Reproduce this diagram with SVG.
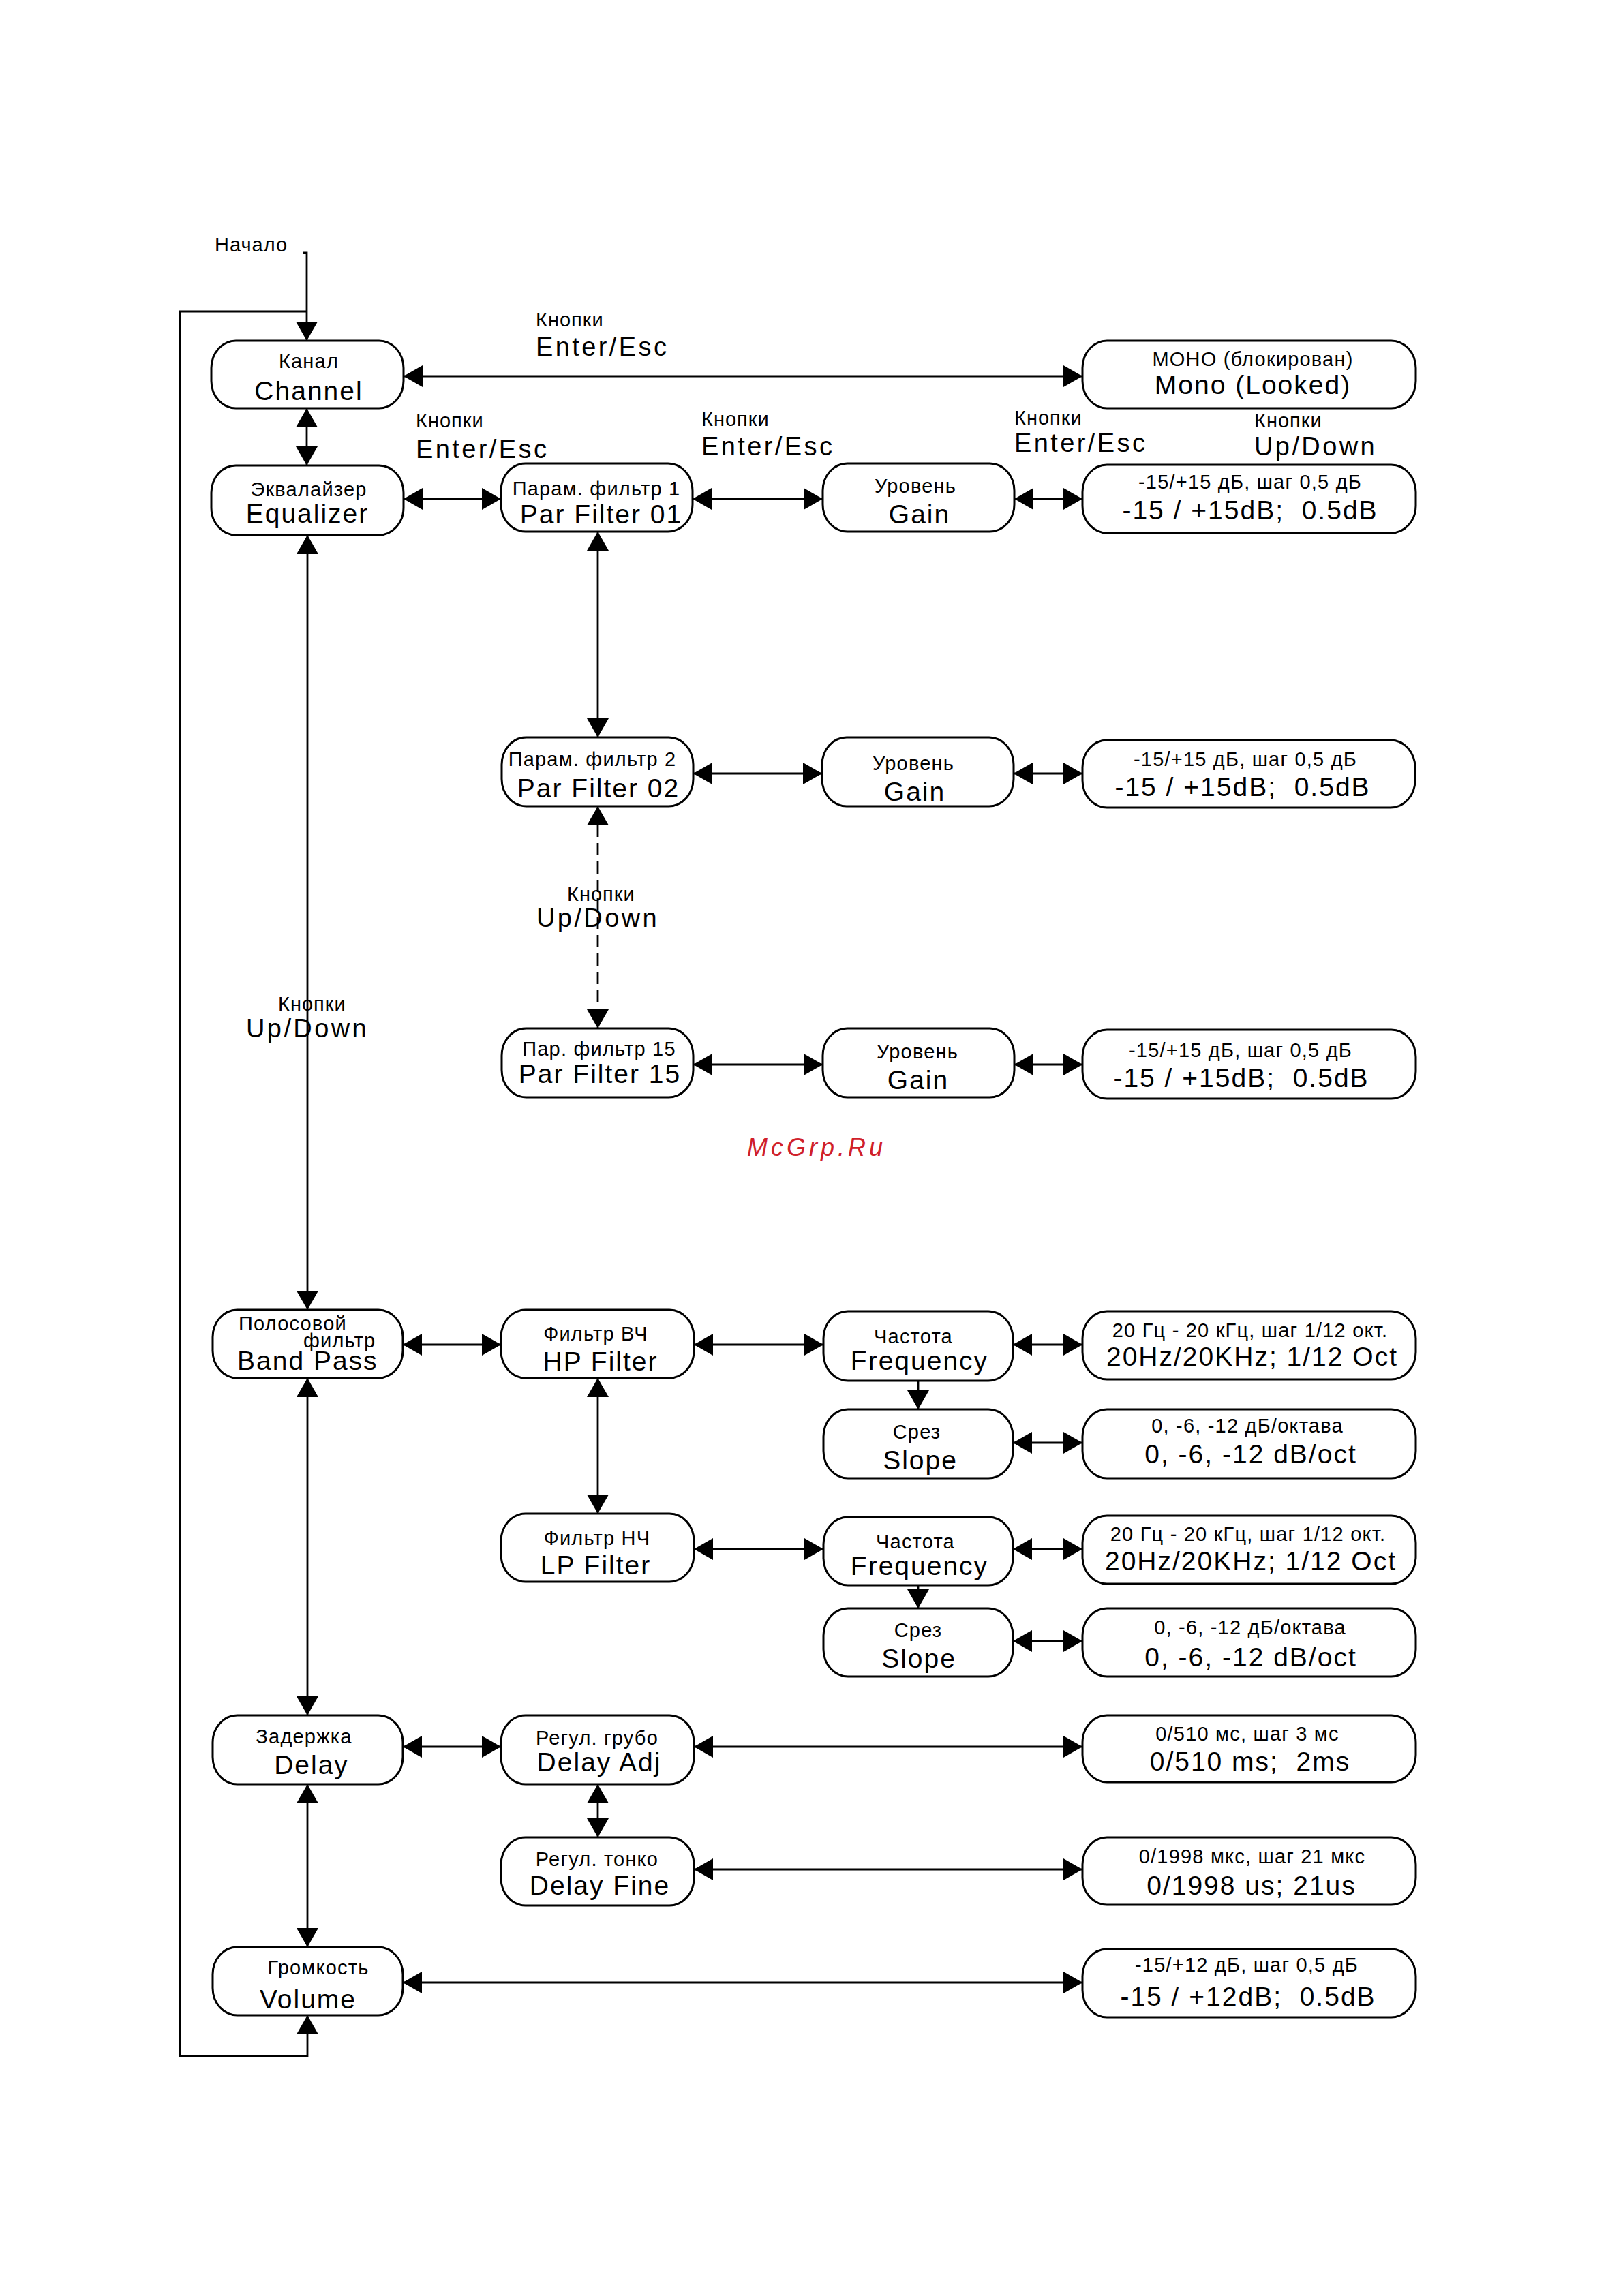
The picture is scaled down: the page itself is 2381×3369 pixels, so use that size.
<svg xmlns="http://www.w3.org/2000/svg" width="2381" height="3369" viewBox="0 0 2381 3369">
<style>
text{font-family:"Liberation Sans",Arial,sans-serif;fill:#000;text-anchor:middle}
.s{font-size:29px;letter-spacing:1.2px}
.b{font-size:39px;letter-spacing:2px}
.k{font-size:38px;letter-spacing:3.4px;text-anchor:start}
.ks{font-size:29px;letter-spacing:1px;text-anchor:start}
.st{text-anchor:start}
.n rect{fill:#fff;stroke:#000;stroke-width:3}
.c line,.c polyline{stroke:#000;stroke-width:2.8;fill:none}
.d{marker-start:url(#ah);marker-end:url(#ah)}
.e{marker-end:url(#ah)}
.dash{stroke-dasharray:18 9}
.wm{font-size:36px;letter-spacing:5px;font-style:italic;fill:#d0202a;text-anchor:start}
</style>
<defs>
<marker id="ah" viewBox="0 0 28 32" refX="28" refY="16" markerWidth="28" markerHeight="32" markerUnits="userSpaceOnUse" orient="auto-start-reverse"><path d="M0,0 L28,16 L0,32 Z" fill="#000"/></marker>
</defs>
<rect width="2381" height="3369" fill="#fff"/>

<g id="connectors" class="c">
<polyline points="444,371 450,371 450,500" class="e"/>
<polyline points="450,457 264,457 264,3017 451,3017 451,2957" class="e"/>
<line x1="592" y1="552" x2="1588" y2="552" class="d"/>
<line x1="450" y1="599" x2="450" y2="683" class="d"/>
<line x1="592" y1="732" x2="735" y2="732" class="d"/>
<line x1="1016" y1="732" x2="1207" y2="732" class="d"/>
<line x1="1488" y1="732" x2="1588" y2="732" class="d"/>
<line x1="877" y1="780" x2="877" y2="1082" class="d"/>
<line x1="1017" y1="1135" x2="1206" y2="1135" class="d"/>
<line x1="1487" y1="1135" x2="1588" y2="1135" class="d"/>
<line x1="877" y1="1183" x2="877" y2="1509" class="d dash"/>
<line x1="1017" y1="1562" x2="1207" y2="1562" class="d"/>
<line x1="1488" y1="1562" x2="1588" y2="1562" class="d"/>
<line x1="451" y1="785" x2="451" y2="1922" class="d"/>
<line x1="591" y1="1973" x2="735" y2="1973" class="d"/>
<line x1="1018" y1="1973" x2="1208" y2="1973" class="d"/>
<line x1="1486" y1="1973" x2="1588" y2="1973" class="d"/>
<line x1="1347" y1="2026" x2="1347" y2="2068" class="e"/>
<line x1="1486" y1="2117" x2="1588" y2="2117" class="d"/>
<line x1="877" y1="2022" x2="877" y2="2221" class="d"/>
<line x1="1018" y1="2273" x2="1208" y2="2273" class="d"/>
<line x1="1486" y1="2273" x2="1588" y2="2273" class="d"/>
<line x1="1347" y1="2326" x2="1347" y2="2360" class="e"/>
<line x1="1486" y1="2408" x2="1588" y2="2408" class="d"/>
<line x1="451" y1="2022" x2="451" y2="2517" class="d"/>
<line x1="591" y1="2563" x2="735" y2="2563" class="d"/>
<line x1="1018" y1="2563" x2="1588" y2="2563" class="d"/>
<line x1="877" y1="2618" x2="877" y2="2696" class="d"/>
<line x1="1018" y1="2743" x2="1588" y2="2743" class="d"/>
<line x1="451" y1="2618" x2="451" y2="2857" class="d"/>
<line x1="591" y1="2909" x2="1588" y2="2909" class="d"/>
</g>

<g id="labels">
<text class="ks" x="315" y="369">Начало</text>
<text class="ks" x="786" y="479">Кнопки</text>
<text class="k" x="786" y="522">Enter/Esc</text>
<text class="ks" x="610" y="627">Кнопки</text>
<text class="k" x="610" y="672">Enter/Esc</text>
<text class="ks" x="1029" y="625">Кнопки</text>
<text class="k" x="1029" y="668">Enter/Esc</text>
<text class="ks" x="1488" y="623">Кнопки</text>
<text class="k" x="1488" y="663">Enter/Esc</text>
<text class="ks" x="1840" y="627">Кнопки</text>
<text class="k" x="1840" y="668">Up/Down</text>
<text class="ks" x="832" y="1322">Кнопки</text>
<text class="k" x="787" y="1360">Up/Down</text>
<text class="ks" x="408" y="1483">Кнопки</text>
<text class="k" x="361" y="1522">Up/Down</text>
<text class="wm" x="1096" y="1696">McGrp.Ru</text>
</g>

<g id="channel" class="n"><rect x="310" y="500" width="282" height="99" rx="36" ry="40"/><text class="s" x="453" y="540">Канал</text><text class="b" x="453" y="587">Channel</text></g>
<g id="mono" class="n"><rect x="1588" y="500" width="489" height="99" rx="36" ry="40"/><text class="s" x="1838" y="537">МОНО (блокирован)</text><text class="b" x="1838" y="578">Mono (Looked)</text></g>

<g id="equalizer" class="n"><rect x="310" y="683" width="282" height="102" rx="36" ry="40"/><text class="s" x="453" y="728">Эквалайзер</text><text class="b" x="451" y="767">Equalizer</text></g>
<g id="parfilter01" class="n"><rect x="735" y="680" width="281" height="100" rx="36" ry="40"/><text class="s" x="875" y="727">Парам. фильтр 1</text><text class="b" x="882" y="768">Par Filter 01</text></g>
<g id="gain1" class="n"><rect x="1207" y="680" width="281" height="100" rx="36" ry="40"/><text class="s" x="1343" y="723">Уровень</text><text class="b" x="1349" y="768">Gain</text></g>
<g id="gainval1" class="n"><rect x="1588" y="682" width="489" height="100" rx="36" ry="40"/><text class="s" x="1834" y="717">-15/+15 дБ, шаг 0,5 дБ</text><text class="b" x="1834" y="762">-15 / +15dB;&#160; 0.5dB</text></g>

<g id="parfilter02" class="n"><rect x="736" y="1082" width="281" height="101" rx="36" ry="40"/><text class="s" x="869" y="1124">Парам. фильтр 2</text><text class="b" x="878" y="1170">Par Filter 02</text></g>
<g id="gain2" class="n"><rect x="1206" y="1082" width="281" height="101" rx="36" ry="40"/><text class="s" x="1340" y="1130">Уровень</text><text class="b" x="1342" y="1175">Gain</text></g>
<g id="gainval2" class="n"><rect x="1588" y="1086" width="488" height="99" rx="36" ry="40"/><text class="s" x="1827" y="1124">-15/+15 дБ, шаг 0,5 дБ</text><text class="b" x="1823" y="1168">-15 / +15dB;&#160; 0.5dB</text></g>

<g id="parfilter15" class="n"><rect x="736" y="1509" width="281" height="101" rx="36" ry="40"/><text class="s" x="879" y="1549">Пар. фильтр 15</text><text class="b" x="880" y="1589">Par Filter 15</text></g>
<g id="gain15" class="n"><rect x="1207" y="1509" width="281" height="101" rx="36" ry="40"/><text class="s" x="1346" y="1553">Уровень</text><text class="b" x="1347" y="1598">Gain</text></g>
<g id="gainval15" class="n"><rect x="1588" y="1511" width="489" height="101" rx="36" ry="40"/><text class="s" x="1820" y="1551">-15/+15 дБ, шаг 0,5 дБ</text><text class="b" x="1821" y="1595">-15 / +15dB;&#160; 0.5dB</text></g>

<g id="bandpass" class="n"><rect x="312" y="1922" width="279" height="100" rx="36" ry="40"/><text class="s st" x="350" y="1952">Полосовой</text><text class="s st" x="445" y="1977">фильтр</text><text class="b st" x="348" y="2010">Band Pass</text></g>
<g id="hpfilter" class="n"><rect x="735" y="1922" width="283" height="100" rx="36" ry="40"/><text class="s" x="874" y="1967">Фильтр ВЧ</text><text class="b" x="881" y="2011">HP Filter</text></g>
<g id="freq1" class="n"><rect x="1208" y="1924" width="278" height="102" rx="36" ry="40"/><text class="s" x="1340" y="1971">Частота</text><text class="b" x="1349" y="2010">Frequency</text></g>
<g id="freqval1" class="n"><rect x="1588" y="1924" width="489" height="100" rx="36" ry="40"/><text class="s" x="1834" y="1962">20 Гц - 20 кГц, шаг 1/12 окт.</text><text class="b" x="1837" y="2004">20Hz/20KHz; 1/12 Oct</text></g>
<g id="slope1" class="n"><rect x="1208" y="2068" width="278" height="101" rx="36" ry="40"/><text class="s" x="1345" y="2111">Срез</text><text class="b" x="1350" y="2156">Slope</text></g>
<g id="slopeval1" class="n"><rect x="1588" y="2068" width="489" height="101" rx="36" ry="40"/><text class="s" x="1830" y="2102">0, -6, -12 дБ/октава</text><text class="b" x="1835" y="2147">0, -6, -12 dB/oct</text></g>

<g id="lpfilter" class="n"><rect x="735" y="2221" width="283" height="100" rx="36" ry="40"/><text class="s" x="876" y="2267">Фильтр НЧ</text><text class="b" x="874" y="2310">LP Filter</text></g>
<g id="freq2" class="n"><rect x="1208" y="2226" width="278" height="100" rx="36" ry="40"/><text class="s" x="1343" y="2272">Частота</text><text class="b" x="1349" y="2311">Frequency</text></g>
<g id="freqval2" class="n"><rect x="1588" y="2224" width="489" height="100" rx="36" ry="40"/><text class="s" x="1831" y="2261">20 Гц - 20 кГц, шаг 1/12 окт.</text><text class="b" x="1835" y="2304">20Hz/20KHz; 1/12 Oct</text></g>
<g id="slope2" class="n"><rect x="1208" y="2360" width="278" height="100" rx="36" ry="40"/><text class="s" x="1347" y="2402">Срез</text><text class="b" x="1348" y="2447">Slope</text></g>
<g id="slopeval2" class="n"><rect x="1588" y="2360" width="489" height="100" rx="36" ry="40"/><text class="s" x="1834" y="2398">0, -6, -12 дБ/октава</text><text class="b" x="1835" y="2445">0, -6, -12 dB/oct</text></g>

<g id="delay" class="n"><rect x="312" y="2517" width="279" height="101" rx="36" ry="40"/><text class="s" x="446" y="2558">Задержка</text><text class="b" x="457" y="2603">Delay</text></g>
<g id="delayadj" class="n"><rect x="735" y="2517" width="283" height="101" rx="36" ry="40"/><text class="s" x="876" y="2560">Регул. грубо</text><text class="b" x="879" y="2599">Delay Adj</text></g>
<g id="delayadjval" class="n"><rect x="1588" y="2517" width="489" height="98" rx="36" ry="40"/><text class="s" x="1830" y="2554">0/510 мс, шаг 3 мс</text><text class="b" x="1834" y="2598">0/510 ms;&#160; 2ms</text></g>
<g id="delayfine" class="n"><rect x="735" y="2696" width="283" height="100" rx="36" ry="40"/><text class="s" x="876" y="2738">Регул. тонко</text><text class="b" x="880" y="2780">Delay Fine</text></g>
<g id="delayfineval" class="n"><rect x="1588" y="2696" width="489" height="99" rx="36" ry="40"/><text class="s" x="1837" y="2734">0/1998 мкс, шаг 21 мкс</text><text class="b" x="1836" y="2780">0/1998 us; 21us</text></g>

<g id="volume" class="n"><rect x="312" y="2857" width="279" height="100" rx="36" ry="40"/><text class="s" x="467" y="2897">Громкость</text><text class="b" x="452" y="2947">Volume</text></g>
<g id="volumeval" class="n"><rect x="1588" y="2860" width="489" height="100" rx="36" ry="40"/><text class="s" x="1829" y="2893">-15/+12 дБ, шаг 0,5 дБ</text><text class="b" x="1831" y="2943">-15 / +12dB;&#160; 0.5dB</text></g>
</svg>
